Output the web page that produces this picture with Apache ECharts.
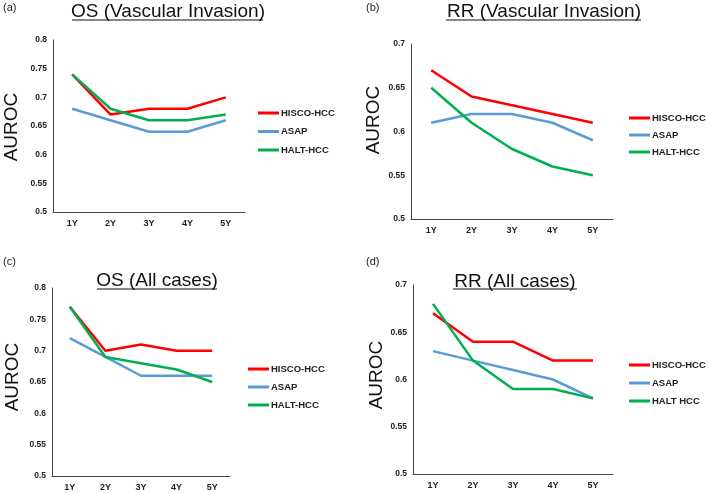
<!DOCTYPE html>
<html>
<head>
<meta charset="utf-8">
<script src="https://cdn.jsdelivr.net/npm/echarts@6/dist/echarts.min.js"></script>
<style>
html,body{margin:0;padding:0;background:#fff;}
#chart{width:709px;height:493px;}
</style>
</head>
<body>
<div id="chart"></div>
<script>
var categories = ['1Y', '2Y', '3Y', '4Y', '5Y'];

var titleA = 'OS (Vascular Invasion)';
var titleB = 'RR (Vascular Invasion)';
var titleC = 'OS (All cases)';
var titleD = 'RR (All cases)';

var hiscoA = [0.74, 0.67, 0.68, 0.68, 0.70];
var asapA  = [0.68, 0.66, 0.64, 0.64, 0.66];
var haltA  = [0.74, 0.68, 0.66, 0.66, 0.67];

var hiscoB = [0.67, 0.64, 0.63, 0.62, 0.61];
var asapB  = [0.61, 0.62, 0.62, 0.61, 0.59];
var haltB  = [0.65, 0.61, 0.58, 0.56, 0.55];

var hiscoC = [0.77, 0.70, 0.71, 0.70, 0.70];
var asapC  = [0.72, 0.69, 0.66, 0.66, 0.66];
var haltC  = [0.77, 0.69, 0.68, 0.67, 0.65];

var hiscoD = [0.67, 0.64, 0.64, 0.62, 0.62];
var asapD  = [0.63, 0.62, 0.61, 0.60, 0.58];
var haltD  = [0.68, 0.62, 0.59, 0.59, 0.58];

var namesABC = ['HISCO-HCC', 'ASAP', 'HALT-HCC'];
var namesD = ['HISCO-HCC', 'ASAP', 'HALT HCC'];

var yMinA = 0.5, yMaxA = 0.8;
var yMinB = 0.5, yMaxB = 0.7;
var yStep = 0.05;

var RED = '#FF0000', BLUE = '#5B9BD5', GREEN = '#00B050';
var FONT = 'Liberation Sans, Arial, sans-serif';

var grids = [
  {left: 53, top: 40, width: 192, height: 172},
  {left: 411, top: 44, width: 202, height: 175},
  {left: 52, top: 288, width: 178, height: 188},
  {left: 413, top: 285, width: 200, height: 189}
];
var yRanges = [[yMinA, yMaxA], [yMinB, yMaxB], [yMinA, yMaxA], [yMinB, yMaxB]];

var axisLineStyle = {show: true, lineStyle: {color: '#444', width: 1}};
var xAxes = grids.map(function (g, i) {
  return {
    type: 'category', gridIndex: i, data: categories, boundaryGap: true,
    axisLine: axisLineStyle, axisTick: {show: false},
    axisLabel: {color: '#222', fontWeight: 'bold', fontSize: 9, fontFamily: FONT, margin: 7}
  };
});
var yAxes = grids.map(function (g, i) {
  return {
    type: 'value', gridIndex: i, min: yRanges[i][0], max: yRanges[i][1], interval: yStep,
    axisLine: axisLineStyle, axisTick: {show: false}, splitLine: {show: false},
    axisLabel: {color: '#222', fontWeight: 'bold', fontSize: 8.5, fontFamily: FONT, margin: 6,
      formatter: function (v) { return String(Math.round(v * 100) / 100); }}
  };
});

function mk(name, data, color, idx) {
  return {
    type: 'line', name: name, data: data, xAxisIndex: idx, yAxisIndex: idx,
    showSymbol: false, symbol: 'none', lineStyle: {color: color, width: 2.5}, itemStyle: {color: color},
    animation: false
  };
}
var series = [
  mk(namesABC[0], hiscoA, RED, 0), mk(namesABC[1], asapA, BLUE, 0), mk(namesABC[2], haltA, GREEN, 0),
  mk(namesABC[0], hiscoB, RED, 1), mk(namesABC[1], asapB, BLUE, 1), mk(namesABC[2], haltB, GREEN, 1),
  mk(namesABC[0], hiscoC, RED, 2), mk(namesABC[1], asapC, BLUE, 2), mk(namesABC[2], haltC, GREEN, 2),
  mk(namesD[0], hiscoD, RED, 3), mk(namesD[1], asapD, BLUE, 3), mk(namesD[2], haltD, GREEN, 3)
];

function legend(left, top, gap, names) {
  return {
    orient: 'vertical', left: left, top: top, data: names, icon: 'rect', padding: 0,
    itemWidth: 21, itemHeight: 3, itemGap: gap, selectedMode: false,
    textStyle: {color: '#222', fontWeight: 'bold', fontSize: 9.5, fontFamily: FONT, padding: [0, 0, 0, -3]}
  };
}
var legends = [
  legend(258, 108, 8.5, namesABC),
  legend(629, 113, 7, namesABC),
  legend(248, 364, 8, namesABC),
  legend(629, 360, 8, namesD)
];

function titleText(text, cx, cy) {
  return {type: 'text', x: cx, y: cy, silent: true,
    style: {text: text, font: '19px ' + FONT, fill: '#111', textAlign: 'center', textVerticalAlign: 'middle'}};
}
function underline(x1, x2, y) {
  return {type: 'line', silent: true, shape: {x1: x1, y1: y, x2: x2, y2: y}, style: {stroke: '#111', lineWidth: 1.2}};
}
function panelLabel(text, x, y) {
  return {type: 'text', x: x, y: y, silent: true,
    style: {text: text, font: '11px ' + FONT, fill: '#222', textAlign: 'left', textVerticalAlign: 'middle'}};
}
function yName(x, y) {
  return {type: 'text', x: x, y: y, rotation: Math.PI / 2, silent: true,
    style: {text: 'AUROC', font: '19px ' + FONT, fill: '#111', textAlign: 'center', textVerticalAlign: 'middle'}};
}

var graphics = [
  titleText(titleA, 168, 12), underline(72, 263, 20),
  titleText(titleB, 544, 12), underline(446, 641, 20),
  titleText(titleC, 157, 281), underline(97, 217, 289),
  titleText(titleD, 515, 282), underline(453, 577, 289),
  panelLabel('(a)', 3, 8), panelLabel('(b)', 366, 8),
  panelLabel('(c)', 3, 262), panelLabel('(d)', 366, 262),
  yName(12, 127), yName(374, 120), yName(13, 377), yName(377, 375)
];

var chart = echarts.init(document.getElementById('chart'), null, {renderer: 'canvas'});
chart.setOption({
  backgroundColor: '#fff',
  animation: false,
  grid: grids,
  xAxis: xAxes,
  yAxis: yAxes,
  legend: legends,
  series: series,
  graphic: graphics
});
</script>
</body>
</html>
